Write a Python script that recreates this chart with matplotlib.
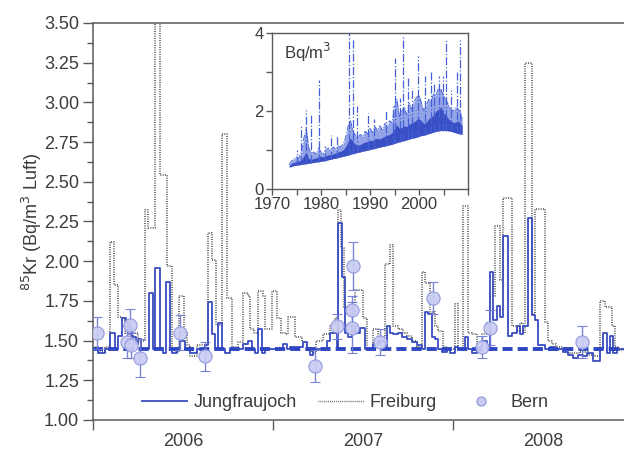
import numpy as np
import matplotlib
matplotlib.use("Agg")
import matplotlib.pyplot as plt
from matplotlib.lines import Line2D

plt.rcParams['font.family'] = ['Liberation Sans', 'DejaVu Sans']

# ---- Jungfraujoch (weekly/biweekly samples, step start dates) ----
jf_start = [2006.000, 2006.030, 2006.067, 2006.094, 2006.122, 2006.139, 2006.159, 2006.183,
            2006.196, 2006.215, 2006.239, 2006.250, 2006.267, 2006.313, 2006.335, 2006.346,
            2006.372, 2006.387, 2006.406, 2006.428, 2006.437, 2006.469,
            2006.483, 2006.511, 2006.539, 2006.576, 2006.622, 2006.640, 2006.659, 2006.677,
            2006.696, 2006.714, 2006.733, 2006.761, 2006.835, 2006.863, 2006.881, 2006.900,
            2006.918, 2006.937, 2006.955,
            2007.057, 2007.076, 2007.094, 2007.168, 2007.187, 2007.205, 2007.224, 2007.298,
            2007.316, 2007.353, 2007.363, 2007.381, 2007.400, 2007.418, 2007.437, 2007.455,
            2007.483, 2007.511, 2007.557, 2007.585, 2007.622, 2007.631, 2007.650, 2007.668,
            2007.696, 2007.714, 2007.742, 2007.770, 2007.798, 2007.826, 2007.844, 2007.863,
            2007.881, 2007.900, 2007.918, 2007.937, 2007.965,
            2007.983, 2008.011, 2008.030, 2008.067, 2008.085, 2008.103, 2008.131, 2008.159,
            2008.187, 2008.205, 2008.224, 2008.242, 2008.261, 2008.279, 2008.307, 2008.326,
            2008.353, 2008.372, 2008.390, 2008.418, 2008.437, 2008.455, 2008.474,
            2008.511, 2008.539, 2008.566, 2008.585, 2008.613, 2008.640, 2008.668, 2008.696,
            2008.724, 2008.742, 2008.779, 2008.816, 2008.835, 2008.853, 2008.872, 2008.890,
            2008.909]
jf_value = [1.45, 1.42, 1.45, 1.55, 1.45, 1.53, 1.64, 1.62,
            1.57, 1.52, 1.48, 1.51, 1.45, 1.80, 1.45, 1.96,
            1.45, 1.42, 1.87, 1.45, 1.42, 1.45,
            1.50, 1.45, 1.42, 1.45, 1.47, 1.74, 1.54, 1.45,
            1.61, 1.45, 1.42, 1.45, 1.48, 1.50, 1.45, 1.42,
            1.57, 1.42, 1.45,
            1.48, 1.45, 1.46, 1.49, 1.44, 1.41, 1.45, 1.50,
            1.55, 1.45, 2.24, 1.90, 1.55, 1.52, 1.59, 1.55,
            1.58, 1.45, 1.48, 1.50, 1.46, 1.59, 1.55, 1.54,
            1.55, 1.52, 1.51, 1.49, 1.47, 1.45, 1.68, 1.67,
            1.52, 1.51, 1.45, 1.43, 1.45,
            1.42, 1.46, 1.45, 1.52, 1.45, 1.42, 1.45, 1.50,
            1.45, 1.93, 1.63, 1.72, 1.65, 2.16, 1.53, 1.55,
            1.59, 1.54, 1.59, 2.27, 1.66, 1.63, 1.47,
            1.45, 1.46, 1.44, 1.45, 1.43, 1.41, 1.39, 1.41,
            1.40, 1.42, 1.37, 1.45, 1.55, 1.42, 1.53, 1.42,
            1.45]

# ---- Freiburg ----
fr_start = [2006.000, 2006.030, 2006.067, 2006.094, 2006.117, 2006.139, 2006.161, 2006.180,
            2006.200, 2006.220, 2006.250, 2006.289, 2006.306, 2006.344, 2006.372, 2006.411,
            2006.439, 2006.455, 2006.478, 2006.506, 2006.520, 2006.539, 2006.576, 2006.640,
            2006.661, 2006.683, 2006.717, 2006.744, 2006.772, 2006.805, 2006.833, 2006.861,
            2006.872, 2006.895, 2006.917, 2006.944, 2006.958, 2006.994, 2007.022, 2007.045,
            2007.070, 2007.085, 2007.122, 2007.160, 2007.190, 2007.215, 2007.240, 2007.280,
            2007.316, 2007.345, 2007.363, 2007.380, 2007.392, 2007.430, 2007.455, 2007.502,
            2007.520, 2007.557, 2007.585, 2007.622, 2007.650, 2007.668, 2007.696, 2007.720,
            2007.745, 2007.770, 2007.798, 2007.826, 2007.844, 2007.872, 2007.900, 2007.918,
            2007.946, 2007.965, 2008.011, 2008.030, 2008.057, 2008.085, 2008.103, 2008.131,
            2008.159, 2008.187, 2008.205, 2008.233, 2008.261, 2008.279, 2008.326, 2008.353,
            2008.372, 2008.390, 2008.400, 2008.437, 2008.455, 2008.511, 2008.530, 2008.548,
            2008.570, 2008.610, 2008.650, 2008.700, 2008.750, 2008.790, 2008.816, 2008.844,
            2008.881, 2008.900, 2008.920]
fr_value = [1.46, 1.43, 1.46, 2.12, 1.85, 1.65, 1.63, 1.55,
            1.50, 1.55, 1.50, 2.32, 2.21, 3.60, 2.54, 1.97,
            1.45, 1.43, 1.78, 1.55, 1.47, 1.40, 1.47, 2.18,
            2.01, 1.60, 2.80, 1.77, 1.46, 1.49, 1.80, 1.78,
            1.57, 1.55, 1.81, 1.78, 1.57, 1.81, 1.64, 1.55,
            1.54, 1.65, 1.52, 1.49, 1.44, 1.42, 1.50, 1.54,
            1.60, 1.64, 2.32, 2.08, 1.71, 1.67, 1.82, 1.64,
            1.45, 1.57, 1.52, 1.98, 2.10, 1.59, 1.57, 1.55,
            1.53, 1.50, 1.46, 1.93, 1.86, 1.68, 1.59, 1.56,
            1.46, 1.45, 1.73, 1.45, 2.35, 1.55, 1.54, 1.46,
            1.54, 1.61, 1.78, 2.22, 1.88, 2.40, 1.59, 1.56,
            1.61, 1.55, 3.25, 1.67, 2.33, 1.62, 1.50, 1.48,
            1.46, 1.44, 1.42, 1.43, 1.41, 1.40, 1.75, 1.71,
            1.59, 1.46, 1.44]

# ---- Bern grab samples ----
bern_date = [2006.022, 2006.189, 2006.206, 2006.211, 2006.261, 2006.483, 2006.622,
             2007.233, 2007.356, 2007.444, 2007.439, 2007.439, 2007.594, 2007.889,
             2008.161, 2008.206, 2008.717]
bern_value = [1.55, 1.49, 1.60, 1.47, 1.39, 1.55, 1.40,
              1.34, 1.59, 1.97, 1.69, 1.58, 1.49, 1.77,
              1.46, 1.58, 1.49]
bern_err = [0.10, 0.10, 0.10, 0.08, 0.12, 0.11, 0.09,
            0.10, 0.08, 0.15, 0.09, 0.16, 0.08, 0.10,
            0.07, 0.11, 0.10]

background_level = 1.45
x_end = 2008.95

# ---- long-term Jungfraujoch record (inset): lower edge, dense core, upper scatter ----
lt_year = [1973.5, 1974.0, 1974.5, 1975.0, 1975.5, 1976.0, 1976.5, 1977.0, 1977.5, 1978.0,
           1978.5, 1979.0, 1979.5, 1980.0, 1980.5, 1981.0, 1981.5, 1982.0, 1982.5, 1983.0,
           1983.5, 1984.0, 1984.5, 1985.0, 1985.5, 1986.0, 1986.5, 1987.0, 1987.5, 1988.0,
           1988.5, 1989.0, 1989.5, 1990.0, 1990.5, 1991.0, 1991.5, 1992.0, 1992.5, 1993.0,
           1993.5, 1994.0, 1994.5, 1995.0, 1995.5, 1996.0, 1996.5, 1997.0, 1997.5, 1998.0,
           1998.5, 1999.0, 1999.5, 2000.0, 2000.5, 2001.0, 2001.5, 2002.0, 2002.5, 2003.0,
           2003.5, 2004.0, 2004.5, 2005.0, 2005.5, 2006.0, 2006.5, 2007.0, 2007.5, 2008.0,
           2008.5, 2008.8]
lt_low = [0.56, 0.58, 0.60, 0.61, 0.62, 0.63, 0.64, 0.65, 0.66, 0.67,
          0.68, 0.69, 0.70, 0.71, 0.72, 0.73, 0.75, 0.76, 0.78, 0.79,
          0.81, 0.82, 0.84, 0.85, 0.87, 0.89, 0.91, 0.92, 0.94, 0.95,
          0.97, 0.98, 1.00, 1.01, 1.03, 1.04, 1.06, 1.07, 1.09, 1.10,
          1.12, 1.13, 1.15, 1.17, 1.19, 1.21, 1.23, 1.24, 1.26, 1.28,
          1.30, 1.31, 1.33, 1.35, 1.37, 1.38, 1.40, 1.42, 1.44, 1.46,
          1.48, 1.49, 1.50, 1.50, 1.50, 1.49, 1.48, 1.46, 1.44, 1.42,
          1.41, 1.40]
lt_core = [0.60, 0.66, 0.68, 0.70, 0.72, 0.74, 0.85, 0.95, 0.78, 0.76,
           0.78, 0.80, 0.82, 0.84, 0.82, 0.85, 0.88, 0.87, 0.90, 0.92,
           0.95, 0.97, 1.00, 1.08, 1.20, 1.30, 1.22, 1.15, 1.12, 1.14,
           1.18, 1.20, 1.22, 1.25, 1.24, 1.28, 1.30, 1.28, 1.32, 1.35,
           1.38, 1.40, 1.45, 1.55, 1.65, 1.55, 1.58, 1.62, 1.60, 1.66,
           1.70, 1.72, 1.78, 1.80, 1.75, 1.68, 1.72, 1.80, 1.85, 1.90,
           2.00, 2.05, 2.10, 1.95, 1.90, 1.80, 1.75, 1.70, 1.72, 1.75,
           1.68, 1.62]
lt_high = [0.62, 0.72, 0.78, 0.82, 0.80, 0.95, 1.30, 1.55, 1.05, 0.88,
           0.95, 0.90, 1.05, 0.95, 0.92, 1.00, 1.05, 0.98, 1.08, 1.02,
           1.10, 1.08, 1.15, 1.30, 1.60, 1.75, 1.50, 1.38, 1.30, 1.40,
           1.35, 1.48, 1.42, 1.55, 1.45, 1.60, 1.50, 1.62, 1.52, 1.68,
           1.60, 1.75, 1.70, 2.10, 2.30, 1.85, 2.00, 2.10, 1.90, 2.20,
           2.05, 2.25, 2.35, 2.40, 2.20, 2.00, 2.15, 2.30, 2.25, 2.45,
           2.40, 2.60, 2.55, 2.40, 2.30, 2.15, 2.05, 2.00, 2.10, 2.05,
           1.95, 1.80]
spike_year = [1975.1, 1976.0, 1976.9, 1977.9, 1979.6, 1980.9, 1982.1, 1983.3, 1985.7, 1986.5,
              1987.4, 1989.6, 1990.9, 1993.3, 1994.7, 1995.2, 1996.1, 1996.7, 1997.8, 1998.6,
              1999.7, 2001.2, 2002.5, 2003.1, 2004.1, 2004.9, 2005.6, 2006.6, 2007.7, 2008.3]
spike_top = [1.01, 1.65, 2.03, 1.92, 2.80, 1.10, 1.39, 1.39, 4.00, 3.87,
             2.12, 1.95, 1.80, 2.03, 2.16, 3.36, 2.33, 3.91, 2.85, 2.60,
             3.40, 2.90, 3.00, 2.75, 2.90, 2.89, 3.83, 2.55, 3.00, 3.83]

# ---- styles ----
C_JF = '#3a4cc0'
C_BASE = '#2f46c2'
C_FR = '#555555'
C_TXT = '#3c3c3c'
C_AX = '#5a5a5a'
FR_DOTS = (0, (0.6, 0.8))

fig = plt.figure(figsize=(6.24, 4.5), dpi=100)
ax = fig.add_axes([93 / 624, 30 / 450, 531 / 624, 397 / 450])

ax.step(fr_start + [x_end], fr_value + [fr_value[-1]], where='post',
        color=C_FR, lw=1.2, linestyle=FR_DOTS, zorder=2)
ax.step(jf_start + [x_end], jf_value + [jf_value[-1]], where='post',
        color=C_JF, lw=1.3, zorder=3)
ax.axhline(background_level, color=C_BASE, lw=2.8, linestyle=(0, (2.6, 1.3)), zorder=4)
ax.errorbar(bern_date, bern_value, yerr=bern_err, fmt='o', ms=9.5,
            mfc='#c9cbf2', mec='#8a92dc', mew=0.8, ecolor='#6f78d4', elinewidth=1.0,
            capsize=3.5, capthick=1.0, alpha=0.9, zorder=5)

ax.set_xlim(2006.0, x_end)
ax.set_ylim(1.0, 3.5)

ax.set_yticks(np.arange(1.0, 3.51, 0.25))
ax.set_yticks(np.arange(1.0, 3.5, 0.125), minor=True)
ax.yaxis.set_major_formatter(matplotlib.ticker.FormatStrFormatter('%.2f'))
ax.set_xticks([2006, 2007, 2008])
ax.set_xticklabels([])
ax.set_xticks([2006.5, 2007.5, 2008.5], minor=True)
ax.set_xticklabels(['2006', '2007', '2008'], minor=True)

ax.tick_params(axis='y', which='major', direction='out', length=7, width=1,
               color=C_AX, labelsize=13, labelcolor=C_TXT, pad=3)
ax.tick_params(axis='y', which='minor', direction='out', length=4, width=1, color=C_AX)
ax.tick_params(axis='x', which='major', direction='out', length=7, width=1, color=C_AX)
ax.tick_params(axis='x', which='minor', length=0, labelsize=13, labelcolor=C_TXT, pad=9)

for side in ['left', 'bottom', 'top']:
    ax.spines[side].set_color(C_AX)
    ax.spines[side].set_linewidth(1.1)
ax.spines['right'].set_visible(False)

ax.set_ylabel(r'$^{85}$Kr (Bq/m$^{3}$ Luft)', fontsize=13, color=C_TXT, labelpad=0)

handles = [Line2D([], [], color=C_JF, lw=1.3),
           Line2D([], [], color=C_FR, lw=1.0, linestyle=FR_DOTS),
           Line2D([], [], marker='o', linestyle='none', ms=6.5, mfc='#c9cbf2',
                  mec='#8a92dc', mew=0.8)]
leg = ax.legend(handles, ['Jungfraujoch', 'Freiburg', 'Bern'], ncol=3, frameon=False,
                loc='center', bbox_to_anchor=(0.475, 0.043), fontsize=13,
                handlelength=2.5, handletextpad=0.35, columnspacing=1.2)
for t in leg.get_texts():
    t.set_color(C_TXT)

# ---- inset: long-term record ----
axi = fig.add_axes([272 / 624, (450 - 189) / 450, 196 / 624, 156 / 450])
axi.set_facecolor('white')
axi.set_zorder(10)
axi.vlines(spike_year, np.interp(spike_year, lt_year, lt_low), spike_top,
           color='#4560d6', lw=0.9, linestyles='dashdot')
axi.fill_between(lt_year, lt_low, lt_high, color='#5a72dc', alpha=0.65, lw=0)
axi.fill_between(lt_year, lt_low, lt_core, color='#2f46c0', alpha=0.9, lw=0)
axi.plot(lt_year, lt_high, color='#4a66d8', lw=0.7, linestyle='-.')
axi.set_xlim(1970, 2010)
axi.set_ylim(0, 4)
axi.set_xticks(np.arange(1970, 2011, 5))
axi.set_xticklabels(['1970', '', '1980', '', '1990', '', '2000', '', ''])
axi.set_yticks([0, 1, 2, 3, 4])
axi.set_yticklabels(['0', '', '2', '', '4'])
axi.tick_params(direction='out', length=4, width=1, color=C_AX, labelsize=12,
                labelcolor=C_TXT, pad=2)
for s in axi.spines.values():
    s.set_color(C_AX)
    s.set_linewidth(1.0)
axi.text(0.06, 0.95, 'Bq/m$^3$', transform=axi.transAxes, ha='left', va='top',
         fontsize=12, color=C_TXT)

fig.savefig('out.png', dpi=100)
